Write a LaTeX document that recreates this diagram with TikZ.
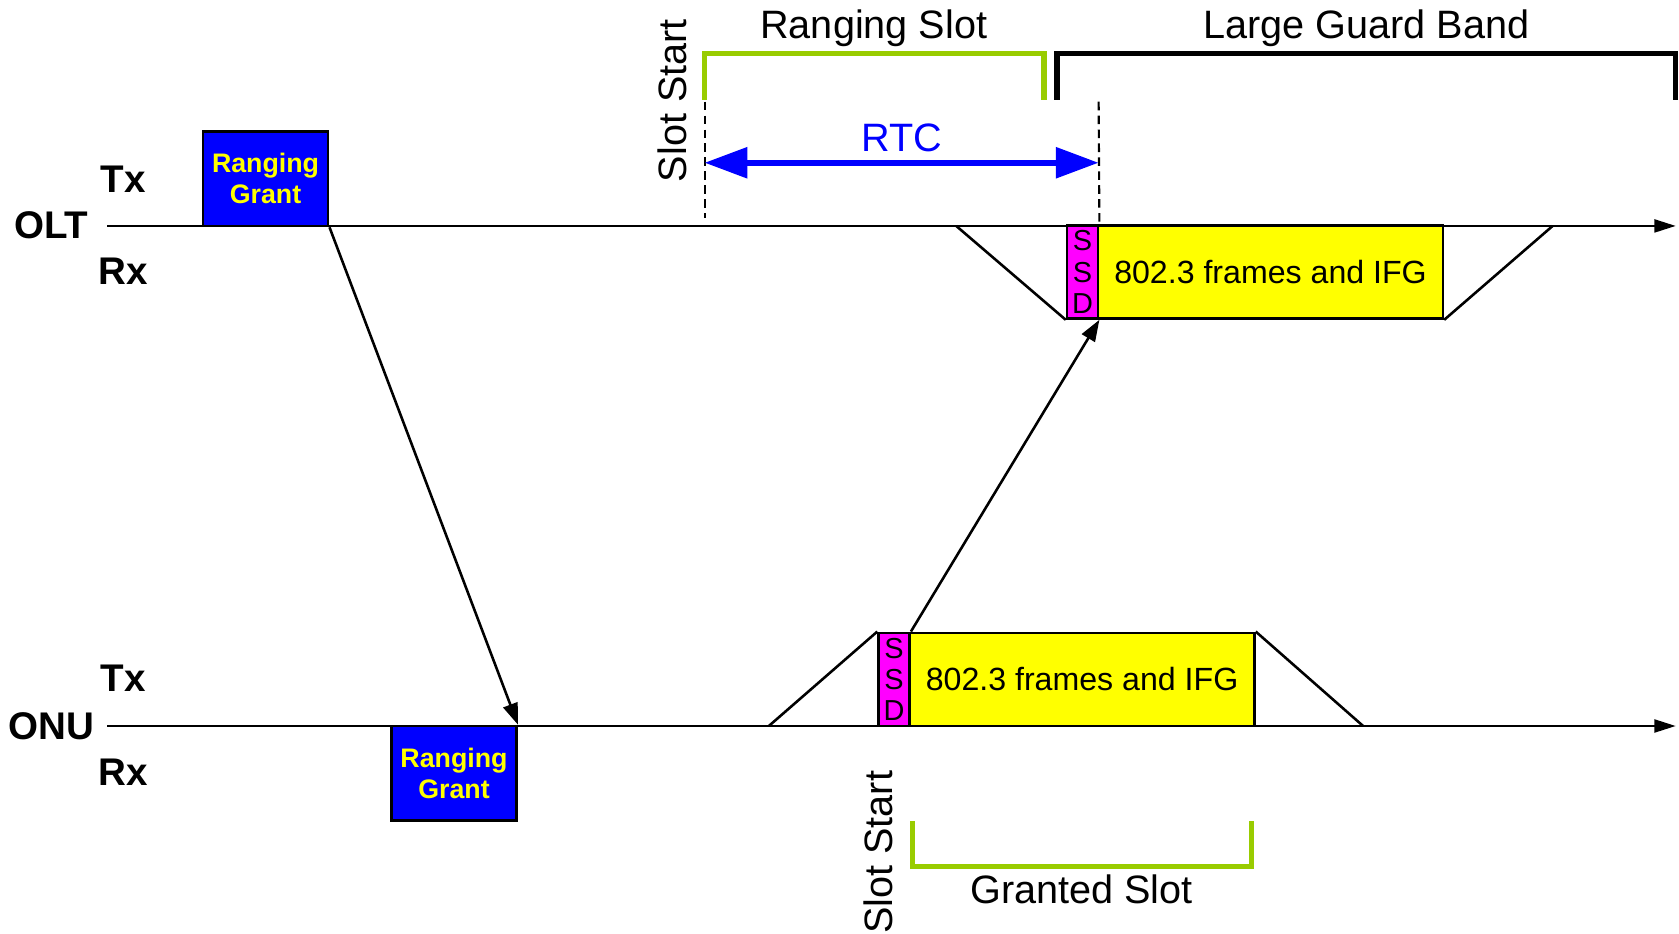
\documentclass[tikz,border=0pt]{standalone}
\usepackage{fontspec}
\setmainfont{Liberation Sans}
\usetikzlibrary{arrows.meta,positioning}
\definecolor{GrantBlue}{HTML}{0000FF}
\definecolor{FrameYellow}{HTML}{FFFF00}
\definecolor{SsdMagenta}{HTML}{FF00FF}
\definecolor{SlotGreen}{HTML}{99CC00}
\tikzset{
  lane/.style={font=\fontsize{18}{20}\selectfont\bfseries,inner sep=0pt},
  grant/.style={draw,fill=GrantBlue,line width=1.2pt,minimum width=58.5pt,minimum height=44pt,inner sep=0pt,align=center,text=FrameYellow,font=\fontsize{12.5}{14.5}\selectfont\bfseries},
  ssd/.style={draw,fill=SsdMagenta,line width=1.2pt,minimum width=14.5pt,minimum height=43.5pt,inner sep=0pt,align=center,font=\fontsize{13.5}{14.6}\selectfont},
  payload/.style={draw,fill=FrameYellow,line width=1.2pt,minimum width=161pt,minimum height=43.5pt,inner sep=0pt,font=\fontsize{15}{17}\selectfont},
  caption/.style={font=\fontsize{18.5}{20}\selectfont,inner sep=0pt},
  timeline/.style={-{Triangle[length=10pt,width=6pt]},line width=1.2pt},
  msg/.style={-{Triangle[length=10pt,width=7pt]},line width=1.2pt},
  ramp/.style={line width=1.2pt},
  slotline/.style={dashed,dash pattern=on 4pt off 2.5pt,line width=1pt},
  slotbrace/.style={draw=SlotGreen,line width=2.5pt},
  guardbrace/.style={draw=black,line width=2.5pt},
  rtc/.style={{Triangle[length=20pt,width=14pt]}-{Triangle[length=20pt,width=14pt]},draw=GrantBlue,line width=2.8pt},
}
\begin{document}
\begin{tikzpicture}[x=0.5pt,y=-0.5pt]
  \useasboundingbox (0,0) rectangle (1568,872);

  % lanes
  \node[lane] (olt tx) at (115,167) {Tx};
  \node[lane] (olt) at (48,210) {OLT};
  \node[lane] (olt rx) at (115,253) {Rx};
  \node[lane] (onu tx) at (115,633) {Tx};
  \node[lane] (onu) at (48,678) {ONU};
  \node[lane] (onu rx) at (115,721) {Rx};
  \coordinate (olt start) at (100,211);
  \coordinate (olt end) at (1565,211);
  \coordinate (onu start) at (100,678);
  \coordinate (onu end) at (1565,678);
  \draw[timeline] (olt start) -- (olt end);
  \draw[timeline] (onu start) -- (onu end);

  % grants
  \node[grant] (olt grant) at (248,167) {Ranging\\Grant};
  \node[grant] (onu grant) at (424,722) {Ranging\\Grant};

  % bursts
  \node[ssd] (olt ssd) at (1011,254) {S\\S\\D};
  \node[payload,right=-1.2pt of olt ssd] (olt payload) {802.3 frames and IFG};
  \node[ssd] (onu ssd) at (835,634.5) {S\\S\\D};
  \node[payload,right=-1.2pt of onu ssd] (onu payload) {802.3 frames and IFG};
  \coordinate (olt ramp in) at (893,211);
  \coordinate (olt ramp out) at (1450,211);
  \coordinate (onu ramp in) at (718,678);
  \coordinate (onu ramp out) at (1273,678);
  \draw[ramp] (olt ramp in) -- (olt ssd.south west);
  \draw[ramp] (olt payload.south east) -- (olt ramp out);
  \draw[ramp] (onu ramp in) -- (onu ssd.north west);
  \draw[ramp] (onu payload.north east) -- (onu ramp out);

  \draw[msg] (olt grant.south east) -- (onu grant.north east);
  \draw[msg] (onu ssd.north east) -- (olt ssd.south east);

  % slot marks
  \coordinate (slot top) at (658,95);
  \coordinate (slot bottom) at (658,204);
  \coordinate (rtc top) at (1026,95);
  \draw[slotline] (slot top) -- (slot bottom);
  \draw[slotline] (rtc top) -- (olt ssd.north east);
  \coordinate (rtc a) at (658,152);
  \coordinate (rtc b) at (1026,152);
  \draw[rtc] (rtc a) -- (rtc b);
  \node[caption,text=GrantBlue] (rtc label) at (842,129) {RTC};
  \node[caption,rotate=90] (olt slot label) at (628,94) {Slot Start};
  \node[caption,rotate=90] (onu slot label) at (820,796) {Slot Start};

  \draw[slotbrace] (658,93) |- (975,50) -- (975,93);
  \node[caption] (ranging slot) at (816,26) {Ranging Slot};
  \draw[guardbrace] (987,93) |- (1565,50) -- (1565,93);
  \node[caption] (guard band) at (1276,26) {Large Guard Band};
  \draw[slotbrace] (852,767) |- (1169,809) -- (1169,767);
  \node[caption] (granted slot) at (1010,831) {Granted Slot};
\end{tikzpicture}
\end{document}
